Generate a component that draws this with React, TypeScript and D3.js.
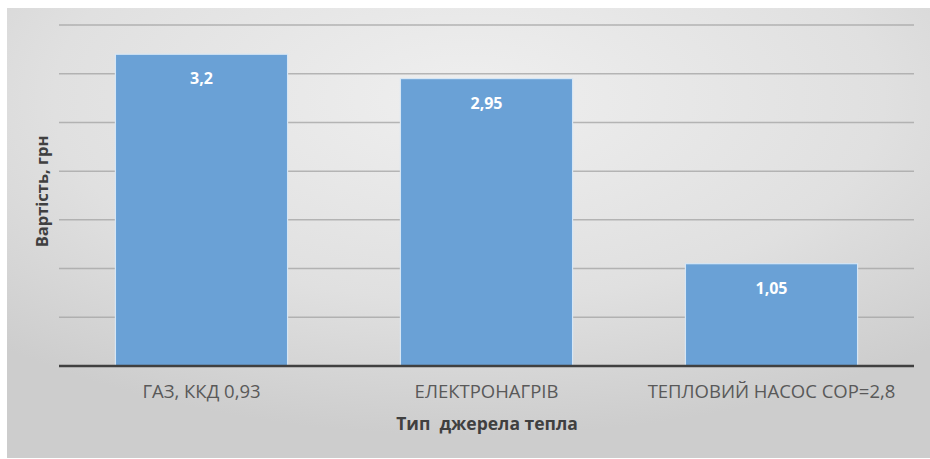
import React from "react";
import * as d3 from "d3";

const categories = ["ГАЗ, ККД 0,93", "ЕЛЕКТРОНАГРІВ", "ТЕПЛОВИЙ НАСОС COP=2,8"];
const values = [3.2, 2.95, 1.05];
const valueLabels = ["3,2", "2,95", "1,05"];
const gridTicks = [0.5, 1, 1.5, 2, 2.5, 3, 3.5];
const yTitle = "Вартість, грн";
const xTitle = "Тип  джерела тепла";

const W = 930;
const H = 459;
const plot = { left: 59, right: 914, top: 25, bottom: 366 };

export default function App() {
  const x = d3
    .scaleBand<string>()
    .domain(categories)
    .range([plot.left, plot.right])
    .paddingInner(0.396)
    .paddingOuter(0.198);
  const y = d3.scaleLinear().domain([0, 3.5]).range([plot.bottom, plot.top]);
  const font = "'Open Sans', 'Noto Sans', sans-serif";

  return (
    <svg
      width={W}
      height={H}
      style={{ position: "absolute", left: 0, top: 0, display: "block" }}
      fontFamily={font}
    >
      <defs>
        <radialGradient id="bg" cx="0.5" cy="0.2" r="0.75" gradientUnits="objectBoundingBox">
          <stop offset="0" stopColor="#efefef" />
          <stop offset="0.6" stopColor="#e0e0e0" />
          <stop offset="1" stopColor="#cdcdcd" />
        </radialGradient>
      </defs>
      <rect x={0} y={0} width={W} height={H} fill="#ffffff" />
      <rect x={7} y={8} width={W - 7} height={450} fill="url(#bg)" />
      {gridTicks.map((t) => (
        <line
          key={t}
          x1={plot.left}
          x2={plot.right}
          y1={y(t)}
          y2={y(t)}
          stroke="#a6a6a6"
          strokeOpacity={0.8}
          strokeWidth={1.5}
        />
      ))}
      {categories.map((c, i) => (
        <g key={c}>
          <rect
            x={x(c)!}
            y={y(values[i])}
            width={x.bandwidth()}
            height={plot.bottom - y(values[i])}
            fill="#6aa1d6"
            stroke="#d6e6f5"
            strokeWidth={1.2}
          />
          <text
            x={x(c)! + x.bandwidth() / 2}
            y={y(values[i]) + 30}
            textAnchor="middle"
            fill="#ffffff"
            fontWeight="bold"
            fontSize={16}
          >
            {valueLabels[i]}
          </text>
          <text
            x={x(c)! + x.bandwidth() / 2}
            y={398}
            textAnchor="middle"
            fill="#595959"
            fontSize={18.5}
          >
            {c}
          </text>
        </g>
      ))}
      <line
        x1={plot.left}
        x2={plot.right}
        y1={plot.bottom}
        y2={plot.bottom}
        stroke="#404040"
        strokeWidth={2.5}
      />
      <text
        transform={`translate(48, ${(plot.top + plot.bottom) / 2 - 4}) rotate(-90)`}
        textAnchor="middle"
        fill="#404040"
        fontWeight="bold"
        fontSize={16.5}
      >
        {yTitle}
      </text>
      <text
        x={487}
        y={430}
        textAnchor="middle"
        fill="#404040"
        fontWeight="bold"
        fontSize={17.5}
        style={{ whiteSpace: "pre" }}
      >
        {xTitle}
      </text>
    </svg>
  );
}
